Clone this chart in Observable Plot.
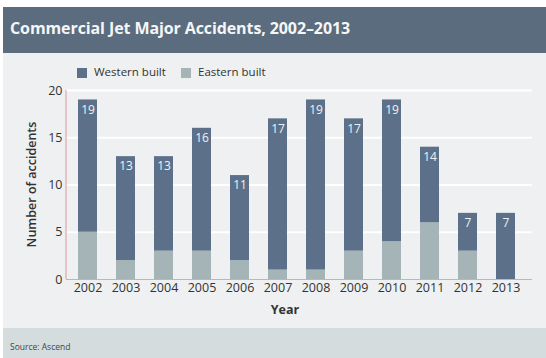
<!DOCTYPE html>
<html>
<head>
<meta charset="utf-8">
<script src="https://cdn.jsdelivr.net/npm/d3@7"></script>
<script src="https://cdn.jsdelivr.net/npm/@observablehq/plot@0.6"></script>
<style>
  html, body { margin: 0; padding: 0; background: #fff; width: 546px; height: 358px; overflow: hidden; }
  #root { position: relative; width: 546px; height: 358px; font-family: "Open Sans", sans-serif; color: #333; }
  #header { position: absolute; left: 3px; top: 7px; width: 543px; height: 46px; background: #5a6c7d; }
  #title { position: absolute; left: 7px; top: 10px; font-size: 16px; font-weight: 700; color: #f4f6f7; white-space: nowrap; letter-spacing: -0.1px; }
  #body { position: absolute; left: 3px; top: 53px; width: 543px; height: 275px; background: #eef0f1; }
  #footer { position: absolute; left: 3px; top: 328px; width: 543px; height: 30px; background: #d5dcdd; }
  #source { position: absolute; left: 7px; top: 13px; font-size: 8.5px; color: #444; }
  #legend { position: absolute; top: 64px; left: 0; font-size: 11.5px; color: #333; }
  .sw { position: absolute; width: 10px; height: 10px; top: 4px; }
  .lt { position: absolute; top: 0; white-space: nowrap; }
  #chart { position: absolute; left: 0; top: 80px; }
</style>
</head>
<body>
<div id="root">
  <div id="header"><div id="title">Commercial Jet Major Accidents, 2002–2013</div></div>
  <div id="body"></div>
  <div id="footer"><div id="source">Source: Ascend</div></div>
  <div id="legend"></div>
  <div id="chart"></div>
</div>
<script>
const years = ["2002","2003","2004","2005","2006","2007","2008","2009","2010","2011","2012","2013"];
const totals = [19, 13, 13, 16, 11, 17, 19, 17, 19, 14, 7, 7];
const eastern = [5, 2, 3, 3, 2, 1, 1, 3, 4, 6, 3, 0];
const western = totals.map((t, i) => t - eastern[i]);
const series = ["Western built", "Eastern built"];
const colors = ["#5c7189", "#a4b4b7"];
const yTicks = [0, 5, 10, 15, 20];

const rows = [];
years.forEach((y, i) => {
  rows.push({year: y, type: "Eastern built", count: eastern[i]});
  rows.push({year: y, type: "Western built", count: western[i]});
});
const labels = years.map((y, i) => ({year: y, total: totals[i]}));

const W = 546, H = 245, mt = 10, mb = 46, ml = 66, mr = 14;

const plot = Plot.plot({
  width: W, height: H,
  marginTop: mt, marginBottom: mb, marginLeft: ml, marginRight: mr,
  style: {background: "transparent", fontFamily: "Open Sans, sans-serif", fontSize: "12px", color: "#333", overflow: "visible"},
  x: {type: "band", domain: years, paddingInner: 0.5, paddingOuter: 0.33, align: 0.4, label: null},
  y: {domain: [0, 20], label: null},
  color: {domain: series, range: colors},
  marks: [
    Plot.gridY(yTicks.slice(1), {stroke: "#ffffff", strokeOpacity: 1, strokeWidth: 2}),
    Plot.barY(rows, {x: "year", y: "count", fill: "type"}),
    Plot.ruleY([0], {stroke: "#e3a5ad", strokeWidth: 1.2}),
    Plot.text(labels, {x: "year", y: "total", text: d => String(d.total), dy: 10, fill: "#eef2f6", fontSize: 12}),
    Plot.axisX({tickSize: 0, tickPadding: 4, fontSize: 12.5}),
    Plot.axisY(yTicks, {tickSize: 0, tickPadding: 4, fontSize: 12.5})
  ]
});

const svg = d3.select(plot);
svg.append("line")
  .attr("x1", ml).attr("x2", ml).attr("y1", mt).attr("y2", H - mb)
  .attr("stroke", "#e3a5ad").attr("stroke-width", 1.2);
svg.append("text")
  .attr("transform", `translate(33,${(mt + H - mb) / 2}) rotate(-90)`)
  .attr("text-anchor", "middle").attr("dominant-baseline", "middle")
  .attr("font-size", 12.5).attr("font-weight", 600).attr("fill", "#333")
  .text("Number of accidents");
svg.append("text")
  .attr("x", 285).attr("y", 234)
  .attr("text-anchor", "middle")
  .attr("font-size", 12.5).attr("font-weight", 700).attr("fill", "#333")
  .text("Year");
document.getElementById("chart").appendChild(plot);

const legend = d3.select("#legend");
const lx = [77, 181];
series.forEach((s, i) => {
  legend.append("div").attr("class", "sw").style("left", lx[i] + "px").style("background", colors[i]);
  legend.append("div").attr("class", "lt").style("left", (lx[i] + 17) + "px").text(s);
});
</script>
</body>
</html>
